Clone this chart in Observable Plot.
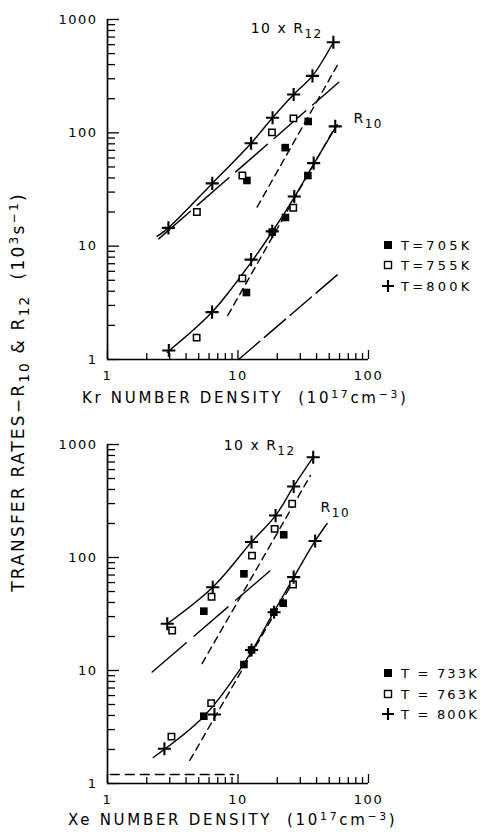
<!DOCTYPE html>
<html><head><meta charset="utf-8">
<script src="https://cdn.jsdelivr.net/npm/d3@7"></script>
<script src="https://cdn.jsdelivr.net/npm/@observablehq/plot@0.6"></script>
<style>
body{margin:0;background:#fff;}
#root{position:relative;width:482px;height:833px;background:#fff;font-family:"DejaVu Sans",sans-serif;color:#000;overflow:hidden}
.abs{position:absolute;white-space:nowrap}
.xt{font-size:15px;letter-spacing:2.7px;}
.yt{font-size:17px;letter-spacing:2.2px;width:460px;height:20px;line-height:20px;text-align:center;transform:rotate(-90deg);transform-origin:50% 50%;}
.xt sup,.yt sup{font-size:0.72em;vertical-align:0.5em;line-height:0}
.yt sub{font-size:0.8em;vertical-align:-0.35em;line-height:0}
</style></head>
<body><div id="root">
<div id="p1" class="abs" style="left:0;top:0"></div>
<div id="p2" class="abs" style="left:0;top:420px"></div>
<div class="abs xt" style="left:82px;top:389px">Kr NUMBER DENSITY&nbsp; (10<sup>17</sup>cm<sup>−3</sup>)</div>
<div class="abs xt" style="left:68px;top:811px">Xe NUMBER DENSITY&nbsp; (10<sup>17</sup>cm<sup>−3</sup>)</div>
<div class="abs yt" style="left:-212px;top:382px">TRANSFER RATES−R<sub>10</sub> &amp; R<sub>12</sub>&nbsp; (10<sup>3</sup>s<sup>−1</sup>)</div>
</div>
<script>
// ---------- axis ticks ----------
const xMajor = [1, 10, 100];
const xMinor = [2,3,4,5,6,7,8,9,20,30,40,50,60,70,80,90];
const yMajor = [1, 10, 100, 1000];
const yMinor = [2,3,4,5,6,7,8,9,20,30,40,50,60,70,80,90,200,300,400,500,600,700,800,900];

// ---------- Kr panel (top) ----------
const krR12_800x = [2.93, 6.35, 12.6, 18.4, 26.7, 37.2, 53.8];
const krR12_800y = [14.5, 35.8, 81, 136, 218, 318, 630];
const krR12_755x = [4.84, 10.8, 18.2, 26.6];
const krR12_755y = [20, 42, 101, 134];
const krR12_705x = [11.7, 23, 34.5];
const krR12_705y = [38, 74, 126];
const krR10_800x = [2.95, 6.33, 12.6, 18.3, 27, 38, 55.6];
const krR10_800y = [1.2, 2.62, 7.6, 13.5, 27.4, 54, 114];
const krR10_755x = [4.82, 10.8, 26.5];
const krR10_755y = [1.56, 5.2, 21.8];
const krR10_705x = [11.6, 18.3, 23.1, 34.3];
const krR10_705y = [3.9, 13.3, 17.9, 42];
// fitted curves / lines (Kr)
const krFitR12x = [2.4, 2.93, 6.35, 12.6, 18.4, 26.7, 37.2, 53.8];
const krFitR12y = [12.2, 14.5, 35.8, 81, 136, 218, 318, 630];
const krFitR10x = [2.87, 6.33, 12.6, 18.3, 27, 38, 57.6];
const krFitR10y = [1.16, 2.62, 7.2, 13.4, 27, 53, 118];
const krDashR12x = [14, 57.6];
const krDashR12y = [22.1, 393];
const krDashR10x = [8.35, 55.8];
const krDashR10y = [2.45, 114];
const krLongR12x = [2.47, 59.2];
const krLongR12y = [11.6, 280];
const krLongR10x = [10.1, 61];
const krLongR10y = [1, 5.9];
const krLabelX = [12.5, 76.7];
const krLabelY = [834, 134];
const krLabelText = ["10 x R_12", "R_10"];
const krLegend = ["T=705K", "T=755K", "T=800K"];

// ---------- Xe panel (bottom) ----------
const xeR12_800x = [2.87, 6.4, 12.7, 19.4, 26.7, 37.7];
const xeR12_800y = [25.9, 54.6, 137, 235, 425, 772];
const xeR12_763x = [3.13, 6.27, 12.8, 19.1, 26];
const xeR12_763y = [22.6, 45, 104, 179, 299];
const xeR12_733x = [5.47, 11.1, 22.4];
const xeR12_733y = [33.5, 71.7, 159];
const xeR10_800x = [2.73, 6.6, 12.7, 18.9, 26.7, 39];
const xeR10_800y = [2.03, 4.08, 15.2, 32.8, 67, 140];
const xeR10_763x = [3.09, 6.23, 26.4];
const xeR10_763y = [2.6, 5.14, 57.7];
const xeR10_733x = [5.47, 11.1, 12.7, 18.8, 22.2];
const xeR10_733y = [3.94, 11.3, 15.2, 32.8, 39.4];
// fitted curves / lines (Xe)
const xeFitR12x = [2.87, 6.4, 12.7, 19.4, 26.7, 37.7];
const xeFitR12y = [25.9, 54.6, 137, 235, 425, 772];
const xeFitR10x = [2.24, 5.44, 11.1, 18.8, 26.8, 39, 48.2];
const xeFitR10y = [1.7, 3.9, 11.5, 32.8, 67, 140, 200];
const xeDashR12x = [5.3, 35.9];
const xeDashR12y = [11.5, 532];
const xeDashR10x = [4.27, 26];
const xeDashR10y = [1.6, 59];
const xeLongR12x = [2.2, 17.7];
const xeLongR12y = [9.7, 76.7];
const xeFlatX = [1.05, 9.3];
const xeFlatY = [1.2, 1.2];
const xeLabelX = [7.76, 42.9];
const xeLabelY = [979, 277];
const xeLabelText = ["10 x R_12", "R_10"];
const xeLegend = ["T = 733K", "T = 763K", "T = 800K"];

const rows = (xs, ys) => xs.map((x, i) => ({x, y: ys[i]}));

function solidLine(xs, ys) {
  return Plot.line(rows(xs, ys), {x: "x", y: "y", curve: "catmull-rom", stroke: "black", strokeWidth: 1.4});
}
function dashedLine(xs, ys, dash) {
  return Plot.line(rows(xs, ys), {x: "x", y: "y", stroke: "black", strokeWidth: 1.4, strokeDasharray: dash});
}
function filledSq(xs, ys) {
  return Plot.dot(rows(xs, ys), {x: "x", y: "y", symbol: "square", r: 4.3, fill: "black"});
}
function openSq(xs, ys) {
  return Plot.dot(rows(xs, ys), {x: "x", y: "y", symbol: "square", r: 3.6, fill: "white", stroke: "black", strokeWidth: 1.5});
}
function plusDot(xs, ys) {
  return Plot.dot(rows(xs, ys), {x: "x", y: "y", symbol: "plus", r: 4.3, stroke: "black", strokeWidth: 2.1});
}

const W = 482, ML = 107, MR = 114;

function panel({height, marginTop, marginBottom, lines, points, labels, legend, legendY, legendSpacing}) {
  const innerH = height - marginTop - marginBottom;
  const innerW = W - ML - MR;
  // inward ticks: full-frame rules trimmed by insets to a short length at the axis
  const xTicks = (values, len) => Plot.ruleX(values, {x: d => d, insetTop: innerH - len, stroke: "black", strokeWidth: 1.3});
  const yTicks = (values, len) => Plot.ruleY(values, {y: d => d, insetRight: innerW - len, stroke: "black", strokeWidth: 1.3});
  const svg = Plot.plot({
    width: W, height,
    marginLeft: ML, marginRight: MR, marginTop, marginBottom,
    x: {type: "log", domain: [1, 100]},
    y: {type: "log", domain: [1, 1000]},
    style: {fontFamily: "DejaVu Sans, sans-serif", fontSize: "13px", letterSpacing: "1.5px", color: "black", background: "white", overflow: "visible"},
    marks: [
      Plot.axisX({ticks: xMajor, tickSize: 0, tickPadding: 11, tickFormat: d => String(d), label: null}),
      Plot.axisY({ticks: yMajor, tickSize: 0, tickPadding: 10, tickFormat: d => String(d), label: null}),
      xTicks(xMinor, 6), xTicks(xMajor, 9),
      yTicks(yMinor, 8), yTicks(yMajor, 12),
      Plot.ruleX([1], {strokeWidth: 1.7}),
      Plot.ruleY([1], {strokeWidth: 1.7}),
      ...lines,
      ...points,
      Plot.text(labels.t.map((t, i) => ({x: labels.x[i], y: labels.y[i], t})), {x: "x", y: "y", text: "t", textAnchor: "start", fontSize: 14, className: "rich"})
    ]
  });
  // sub-script rendering for annotations
  d3.select(svg).selectAll("g.rich text").each(function() {
    const [main, sub] = this.textContent.split("_");
    const el = d3.select(this);
    el.text(main);
    if (sub) el.append("tspan").attr("dy", "0.45em").attr("font-size", 12).text(sub);
  });
  // legend
  const g = d3.select(svg).append("g").attr("font-size", 13).attr("letter-spacing", legendSpacing).attr("text-anchor", "start");
  legend.forEach((label, i) => {
    const cy = legendY[i];
    if (i === 0) g.append("rect").attr("x", 384).attr("y", cy - 4).attr("width", 8).attr("height", 8).attr("fill", "black");
    if (i === 1) g.append("rect").attr("x", 384.5).attr("y", cy - 3.5).attr("width", 7).attr("height", 7).attr("fill", "white").attr("stroke", "black").attr("stroke-width", 1.4);
    if (i === 2) g.append("path").attr("d", `M382,${cy}h12M388,${cy - 6}v12`).attr("stroke", "black").attr("stroke-width", 2.1);
    g.append("text").attr("x", 401).attr("y", cy).attr("dy", "0.36em").text(label);
  });
  return svg;
}

const topPlot = panel({
  height: 420, marginTop: 19, marginBottom: 61,
  lines: [
    solidLine(krFitR12x, krFitR12y),
    solidLine(krFitR10x, krFitR10y),
    dashedLine(krDashR12x, krDashR12y, "7,5"),
    dashedLine(krDashR10x, krDashR10y, "7,5"),
    dashedLine(krLongR12x, krLongR12y, "42,9"),
    dashedLine(krLongR10x, krLongR10y, "28,6")
  ],
  points: [
    filledSq(krR12_705x, krR12_705y), filledSq(krR10_705x, krR10_705y),
    openSq(krR12_755x, krR12_755y), openSq(krR10_755x, krR10_755y),
    plusDot(krR12_800x, krR12_800y), plusDot(krR10_800x, krR10_800y)
  ],
  labels: {x: krLabelX, y: krLabelY, t: krLabelText},
  legend: krLegend, legendY: [245, 265, 286], legendSpacing: "3.2px"
});
document.getElementById("p1").append(topPlot);

const bottomPlot = panel({
  height: 413, marginTop: 24, marginBottom: 50,
  lines: [
    solidLine(xeFitR12x, xeFitR12y),
    solidLine(xeFitR10x, xeFitR10y),
    dashedLine(xeDashR12x, xeDashR12y, "7,5"),
    dashedLine(xeDashR10x, xeDashR10y, "7,5"),
    dashedLine(xeLongR12x, xeLongR12y, "45,10"),
    dashedLine(xeFlatX, xeFlatY, "9,6")
  ],
  points: [
    filledSq(xeR12_733x, xeR12_733y), filledSq(xeR10_733x, xeR10_733y),
    openSq(xeR12_763x, xeR12_763y), openSq(xeR10_763x, xeR10_763y),
    plusDot(xeR12_800x, xeR12_800y), plusDot(xeR10_800x, xeR10_800y)
  ],
  labels: {x: xeLabelX, y: xeLabelY, t: xeLabelText},
  legend: xeLegend, legendY: [253, 274, 294], legendSpacing: "2.2px"
});
document.getElementById("p2").append(bottomPlot);
</script>
</body></html>
